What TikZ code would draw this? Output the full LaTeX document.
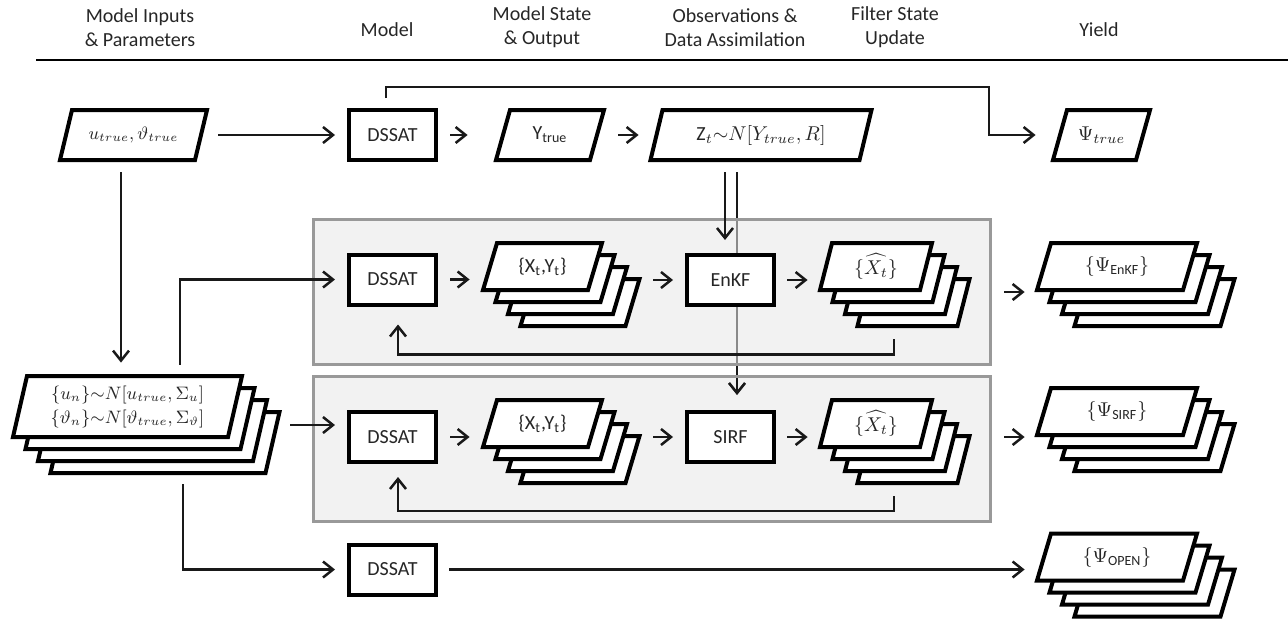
\documentclass[tikz,border=0pt]{standalone}
\usepackage{amsmath}
\usepackage{fontspec}
\setmainfont{Carlito}
\usetikzlibrary{arrows.meta,calc}
\pgfdeclarelayer{bg}
\pgfdeclarelayer{pan}
\pgfsetlayers{bg,pan,main}
\tikzset{
 sheet/.style={draw=black, fill=white, line width=2pt, line join=miter},
 lbl/.style={inner sep=0pt, align=center, font=\fontsize{10}{12}\selectfont, text=black!85},
 rbox/.style={draw=black, fill=white, line width=2pt, minimum width=43.5pt, minimum height=25pt, inner sep=0pt, font=\fontsize{10}{12}\selectfont, text=black!85},
 conn/.style={line width=1.25pt, draw=black!90},
 arr/.style={conn, -{Straight Barb[length=5pt,width=8pt]}},
 panel/.style={draw=black!40, line width=1.5pt, fill=black!9, fill opacity=0.55, minimum width=338.5pt, minimum height=72.5pt, inner sep=0pt},
 hdr/.style={align=center, font=\fontsize{10}{12}\selectfont, text=black!85}
}
\newcommand\sheetat[5]{\filldraw[sheet] ({#1-#3/2-#5/2},{#2+#4/2}) -- ++(#3,0) -- ++(#5,-#4) -- ++(-#3,0) -- cycle;}
\newcommand\paranode[7]{\sheetat{#2}{#3}{#4}{#5}{#6}
 \node[lbl, minimum width=#4*0.5pt, minimum height=#5*0.5pt] (#1) at (#2,#3) {#7};}
\newcommand\stacknode[7]{\foreach \k in {3,2,1}{\sheetat{#2+\k*12.5}{#3+\k*12}{#4}{#5}{#6}}
 \paranode{#1}{#2}{#3}{#4}{#5}{#6}{#7}}
\begin{document}
\begin{tikzpicture}[x=0.5pt,y=-0.5pt]
\useasboundingbox (0,0) rectangle (1288,621);
% header
\node[hdr] (h1) at (140,27.5) {Model Inputs\\\& Parameters};
\node[hdr] (h2) at (387,30) {Model};
\node[hdr] (h3) at (542,27.5) {Model State\\\& Output};
\node[hdr] (h4) at (735,27.5) {Observations \&\\Data Assimilation};
\node[hdr] (h5) at (895,27.5) {Filter State\\Update};
\node[hdr] (h6) at (1099,30) {Yield};
\coordinate (hl) at (36,60);
\coordinate (hr) at (1288,60);
\draw[line width=1pt] (hl) -- (hr);
% panels
\begin{pgfonlayer}{pan}
\node[panel] (p1) at (651.5,291.5) {};
\node[panel] (p2) at (651.5,448.5) {};
\end{pgfonlayer}
% top row
\paranode{u}{133.5}{135}{135}{50}{12}{\fontsize{9}{11}\selectfont$u_{true},\vartheta_{true}$}
\node[rbox] (d0) at (392.5,135) {DSSAT};
\paranode{yt}{550}{135}{94}{50}{14}{Y$_{\text{true}}$}
\paranode{z}{761}{135}{209}{50}{12}{$\mathrm{Z}_t{\sim}N[Y_{true},R]$}
\paranode{pt}{1101.5}{135}{83}{50}{14}{$\Psi_{true}$}
% input stack
\stacknode{ins}{127.5}{406.5}{215}{61}{14}{\fontsize{8.6}{11}\selectfont$\{u_n\}{\sim}N[u_{true},\Sigma_u]$\\\fontsize{8.6}{11}\selectfont$\{\vartheta_n\}{\sim}N[\vartheta_{true},\Sigma_\vartheta]$}
% row 1
\node[rbox] (d1) at (392.5,279.5) {DSSAT};
\stacknode{xy1}{542.5}{266.5}{105}{47}{14}{\{X$_{\text{t}}$,Y$_{\text{t}}$\}}
\node[rbox] (enkf) at (730.5,280) {EnKF};
\stacknode{xh1}{876}{266.5}{100}{47}{12}{$\{\widehat{X_t}\}$}
\stacknode{pe}{1117}{266.5}{146}{47}{14}{$\{\Psi_{\text{EnKF}}\}$}
% row 2
\node[rbox] (d2) at (392.5,437) {DSSAT};
\stacknode{xy2}{542.5}{423.5}{105}{47}{14}{\{X$_{\text{t}}$,Y$_{\text{t}}$\}}
\node[rbox] (sirf) at (730.5,437) {SIRF};
\stacknode{xh2}{876}{423.5}{100}{47}{12}{$\{\widehat{X_t}\}$}
\stacknode{ps}{1117}{411.5}{146}{47}{14}{$\{\Psi_{\text{SIRF}}\}$}
% row 3
\node[rbox] (d3) at (392.5,569.5) {DSSAT};
\stacknode{po}{1117}{557}{146}{47}{14}{$\{\Psi_{\text{OPEN}}\}$}
% connectors top
\draw[arr, shorten <=8.5pt, shorten >=6pt] (u) -- (d0);
\draw[arr, shorten <=6pt, shorten >=17.5pt] (d0) -- (yt);
\draw[arr, shorten <=10.5pt, shorten >=8.75pt] (yt) -- (z);
\coordinate (tb) at (989,87);
\draw[arr, shorten >=12pt] ($(d0.north)+(-6.5,-10)$) |- (tb) |- (pt.west);
\draw[arr, shorten <=6pt, shorten >=6.5pt] ($(z.south -| enkf.north)+(-5.5,0)$) -- ($(enkf.north)+(-5.5,0)$);
\begin{pgfonlayer}{bg}
\draw[arr, shorten <=6pt, shorten >=7.5pt] ($(z.south -| sirf.north)+(6.5,0)$) -- ($(sirf.north)+(6.5,0)$);
\end{pgfonlayer}
\draw[arr, shorten >=7.5pt] ($(p2.north -| sirf.north)+(6.5,3)$) -- ($(sirf.north)+(6.5,0)$);
% input connectors
\draw[arr] ($(u.south)+(-12.5,12)$) -- ($(ins.north)+(-6.5,-13)$);
\draw[arr, shorten >=6pt] ($(ins.north)+(52.5,-11)$) |- (d1.west);
\draw[arr, shorten >=6pt] ($(ins.east)+(55,18.5)$) -- ($(d2.west)+(0,-12)$);
\draw[arr, shorten >=6pt] ($(ins.south)+(55.5,47)$) |- (d3.west);
% row 1
\draw[arr, shorten <=6pt, shorten >=10pt] (d1.east) -- (d1.east -| xy1.west);
\draw[arr, shorten >=6pt] ($(xy1.east |- enkf.west)+(58,0)$) -- (enkf.west);
\draw[arr, shorten <=5.5pt, shorten >=9pt] (enkf.east) -- (enkf.east -| xh1.west);
\draw[arr, shorten >=9.5pt] ($(xh1.east)+(78,25.5)$) -- ($(pe.west)+(0,25.5)$);
\draw[arr, shorten >=9pt] ($(xh1.south)+(18,49)$) |- ($(d1.south)+(5.5,48)$) -- ($(d1.south)+(5.5,0)$);
% row 2
\draw[arr, shorten <=6pt, shorten >=10pt] (d2.east) -- (d2.east -| xy2.west);
\draw[arr, shorten >=6pt] ($(xy2.east |- sirf.west)+(58,0)$) -- (sirf.west);
\draw[arr, shorten <=5.5pt, shorten >=9pt] (sirf.east) -- (sirf.east -| xh2.west);
\draw[arr, shorten >=9.5pt] ($(xh2.east)+(78,13.5)$) -- ($(ps.west)+(0,25.5)$);
\draw[arr, shorten >=6.5pt] ($(xh2.south)+(18,49)$) |- ($(d2.south)+(5.5,47)$) -- ($(d2.south)+(5.5,0)$);
% row 3
\draw[arr, shorten <=5.5pt, shorten >=9.5pt] (d3.east) -- (d3.east -| po.west);
\end{tikzpicture}
\end{document}
